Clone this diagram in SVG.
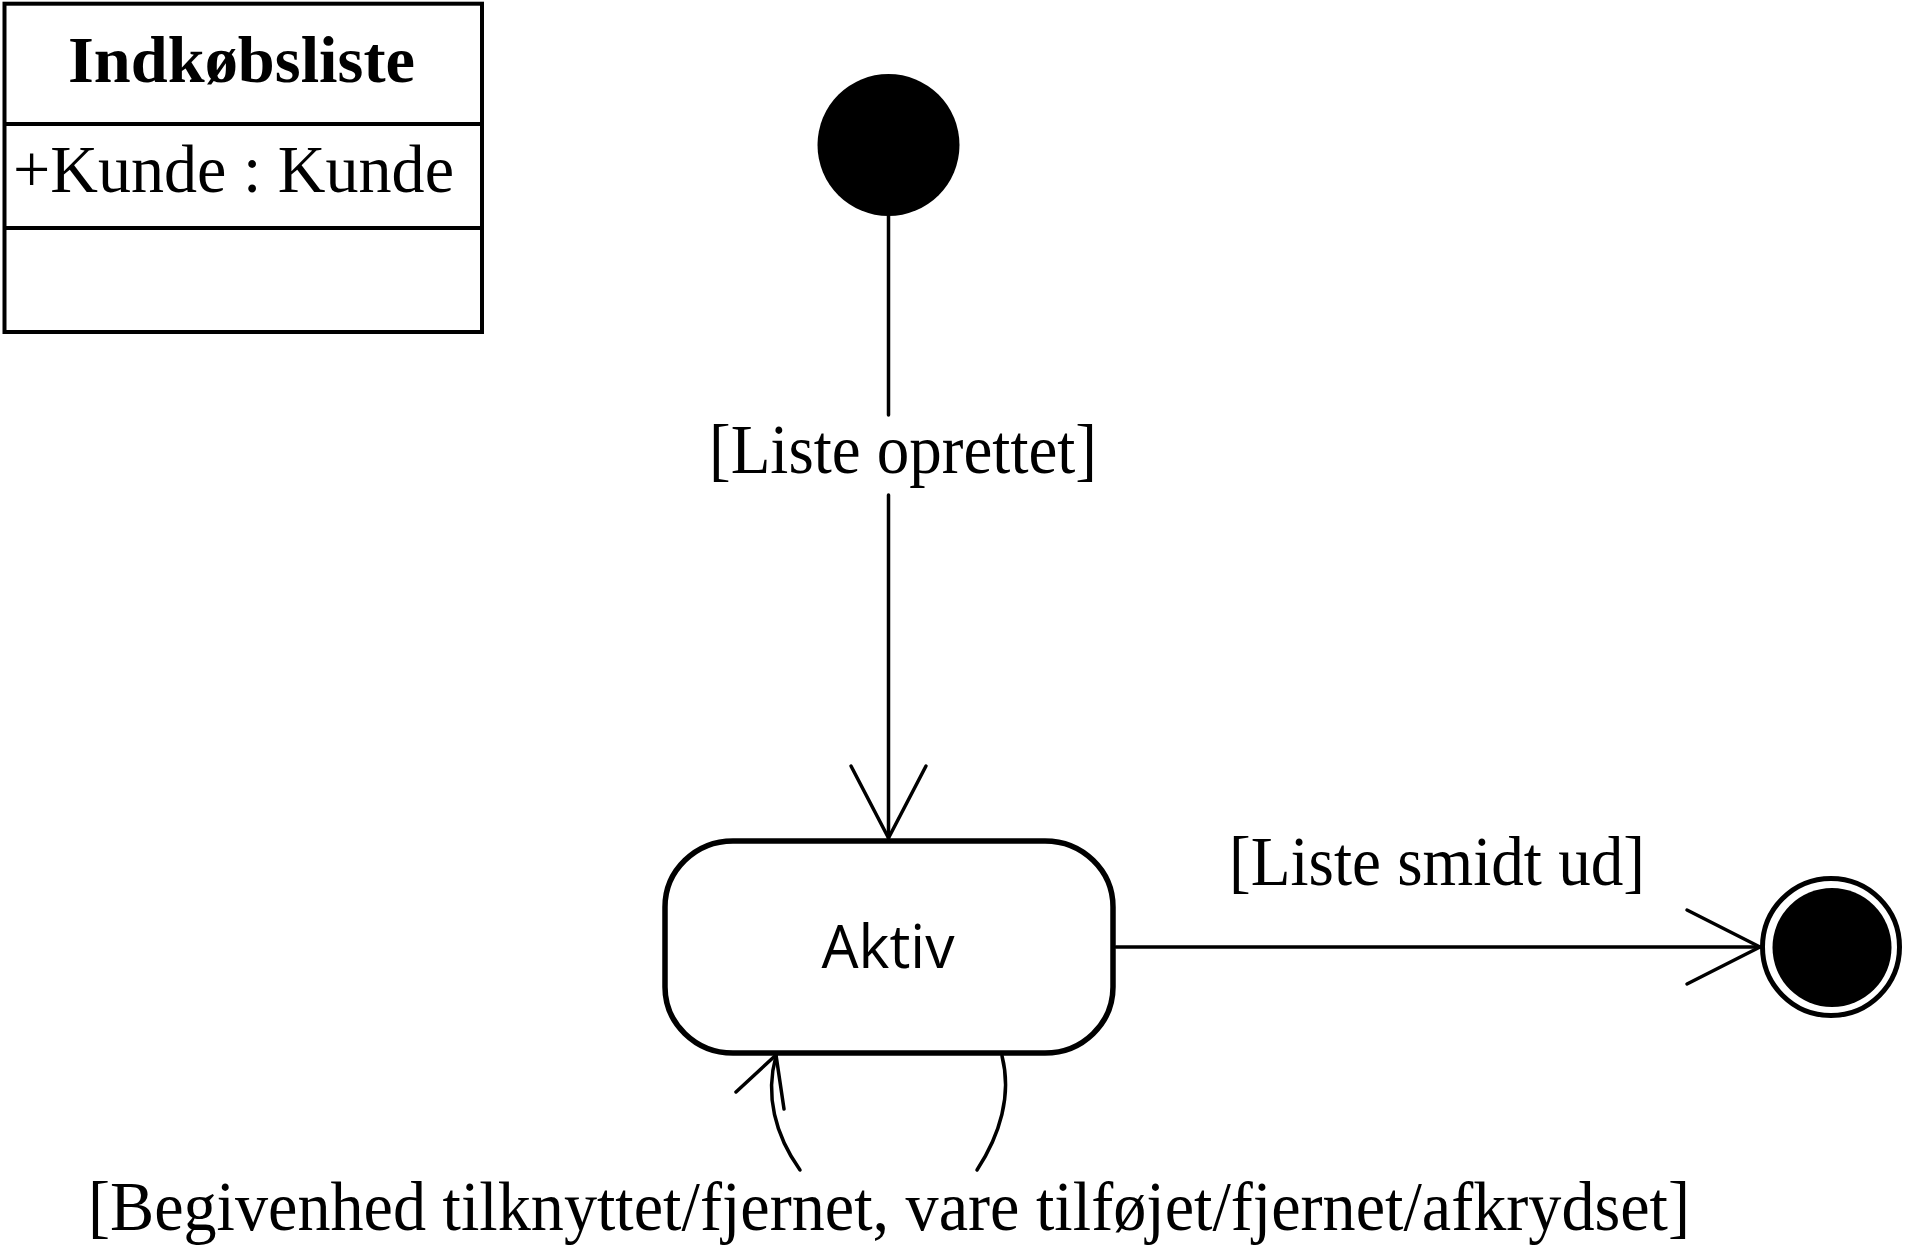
<svg xmlns="http://www.w3.org/2000/svg" width="1907" height="1251" viewBox="0 0 1907 1251">
<style>
.serif{font-family:"Liberation Serif","Times New Roman",serif;fill:#000}
.sans{font-family:"Open Sans","Liberation Sans",sans-serif;fill:#000}
.box{fill:#fff;stroke:#000;stroke-width:4}
.conn{fill:none;stroke:#000;stroke-width:3.5;stroke-linecap:round;stroke-linejoin:round}
</style>
<rect width="1907" height="1251" fill="#fff"/>
<g id="class-indkobsliste">
<rect class="box" x="4.5" y="3.7" width="477.5" height="328.3"/>
<line x1="4.5" y1="124" x2="482" y2="124" stroke="#000" stroke-width="4"/>
<line x1="4.5" y1="228" x2="482" y2="228" stroke="#000" stroke-width="4"/>
<text class="serif" x="241.5" y="82" font-size="65" font-weight="bold" text-anchor="middle" textLength="347" lengthAdjust="spacingAndGlyphs">Indkøbsliste</text>
<text class="serif" x="13" y="192" font-size="68" textLength="441" lengthAdjust="spacingAndGlyphs">+Kunde : Kunde</text>
</g>
<g id="initial">
<circle cx="888.5" cy="145" r="71" fill="#000"/>
</g>
<g id="aktiv">
<rect x="665" y="841" width="448" height="212" rx="68" ry="66" fill="#fff" stroke="#000" stroke-width="5.5"/>
<text class="sans" x="888" y="968" font-size="60" text-anchor="middle" textLength="133" lengthAdjust="spacingAndGlyphs">Aktiv</text>
</g>
<g id="final">
<circle cx="1831" cy="947" r="68.5" fill="#fff" stroke="#000" stroke-width="5"/>
<circle cx="1832" cy="947.5" r="59.5" fill="#000"/>
</g>
<g id="connectors">
<line class="conn" x1="888.5" y1="216" x2="888.5" y2="415"/>
<line class="conn" x1="888.5" y1="495" x2="888.5" y2="838"/>
<polyline class="conn" points="851,766 888.5,838 926,766"/>
<text class="serif" x="709" y="473" font-size="70" textLength="388" lengthAdjust="spacingAndGlyphs">[Liste oprettet]</text>
<line class="conn" x1="1116" y1="947" x2="1760" y2="947"/>
<polyline class="conn" points="1687,910 1760,947 1687,984"/>
<text class="serif" x="1229" y="885" font-size="70" textLength="416" lengthAdjust="spacingAndGlyphs">[Liste smidt ud]</text>
<path class="conn" d="M 800 1170 C 775 1135 765 1095 776 1056"/>
<path class="conn" d="M 977 1170 C 1000 1135 1012 1095 1002 1056"/>
<polyline class="conn" points="736,1092 776,1055 784,1109"/>
<text class="serif" x="88" y="1230" font-size="70" textLength="1602" lengthAdjust="spacingAndGlyphs">[Begivenhed tilknyttet/fjernet, vare tilføjet/fjernet/afkrydset]</text>
</g>
</svg>
